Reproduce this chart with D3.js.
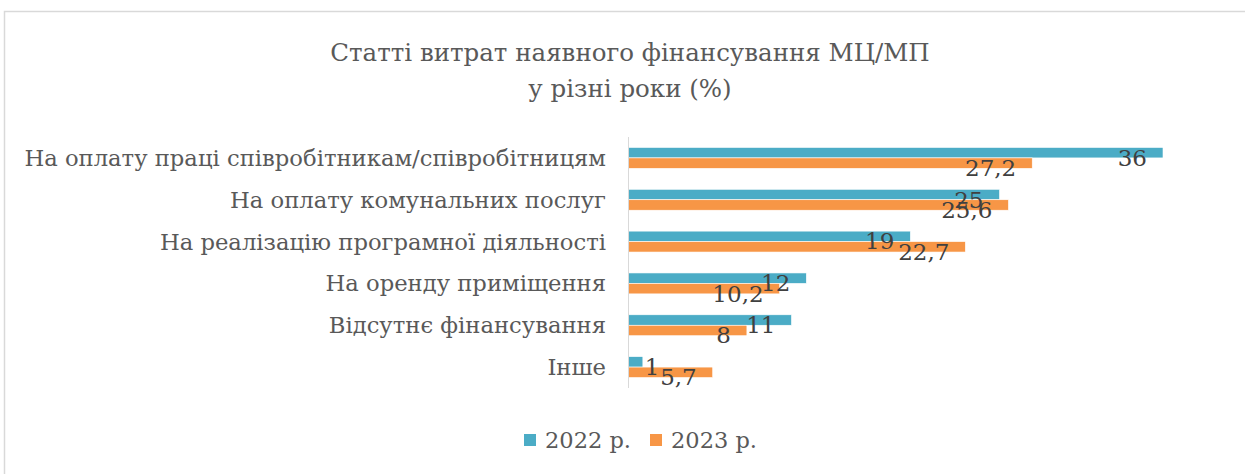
<!DOCTYPE html>
<html>
<head>
<meta charset="utf-8">
<script src="https://cdn.jsdelivr.net/npm/d3@7"></script>
<style>
	body { margin: 0; background: #fff; }
	svg text { font-family: "DejaVu Serif", "Liberation Serif", serif; }
</style>
</head>
<body>
<svg id="chart" width="1245" height="474"></svg>
<script>
var categories = [
	'На оплату праці співробітникам/співробітницям',
	'На оплату комунальних послуг',
	'На реалізацію програмної діяльності',
	'На оренду приміщення',
	'Відсутнє фінансування',
	'Інше'
];
var values2022 = [36, 25, 19, 12, 11, 1];
var values2023 = [27.2, 25.6, 22.7, 10.2, 8, 5.7];
var seriesNames = ['2022 р.', '2023 р.'];
var seriesColors = ['#4BACC6', '#F79646'];
var titleLines = ['Статті витрат наявного фінансування МЦ/МП', 'у різні роки (%)'];

var chart = {
	initialize: function(){
		var self = this;
		self._render_view();
	},
	_render_view: function(){
		var self = this;
		var svg = d3.select('#chart');
		var plot = {left: 628, right: 1163, top: 137, bottom: 388};

		// chart frame
		svg.append('rect')
			.attr('x', 4.5).attr('y', 11.5)
			.attr('width', 1270).attr('height', 490)
			.attr('fill', 'none')
			.attr('stroke', '#d9d9d9')
			.attr('stroke-width', 1.5);

		svg.selectAll('.title-line')
			.data(titleLines)
			.enter()
			.append('text')
			.attr('class', 'title-line')
			.attr('x', 630)
			.attr('y', function(d, i){ return 52 + i * 36; })
			.attr('text-anchor', 'middle')
			.attr('dominant-baseline', 'central')
			.attr('fill', '#595959')
			.style('font-size', '24.5px')
			.text(function(d){ return d; });

		var x = d3.scaleLinear().domain([0, 36]).range([plot.left, plot.right]);
		var y = d3.scaleBand().domain(categories)
			.range([plot.top, plot.bottom])
			.paddingInner(0.5).paddingOuter(0.25);
		var bh = y.bandwidth() / 2;

		var rows = categories.map(function(c, i){
			return {cat: c, vals: [values2022[i], values2023[i]]};
		});

		// category labels
		svg.selectAll('.cat-label')
			.data(categories)
			.enter()
			.append('text')
			.attr('class', 'cat-label')
			.attr('x', 606)
			.attr('y', function(d){ return y(d) + y.bandwidth() / 2; })
			.attr('text-anchor', 'end')
			.attr('dominant-baseline', 'central')
			.attr('fill', '#595959')
			.style('font-size', '22.7px')
			.text(function(d){ return d; });

		var bars = [];
		rows.forEach(function(r){
			r.vals.forEach(function(v, s){
				bars.push({cat: r.cat, v: v, s: s});
			});
		});

		svg.selectAll('.bar')
			.data(bars)
			.enter()
			.append('rect')
			.attr('class', 'bar')
			.attr('x', x(0))
			.attr('y', function(d){ return y(d.cat) + d.s * bh; })
			.attr('width', function(d){ return x(d.v) - x(0); })
			.attr('height', bh)
			.attr('fill', function(d){ return seriesColors[d.s]; })
			.attr('stroke', '#fff')
			.attr('stroke-width', 0.6);

		// vertical axis line
		svg.append('line')
			.attr('x1', plot.left + 0.5).attr('x2', plot.left + 0.5)
			.attr('y1', plot.top).attr('y2', plot.bottom)
			.attr('stroke', '#d9d9d9')
			.attr('stroke-width', 1);

		// value labels
		svg.selectAll('.val-label')
			.data(bars)
			.enter()
			.append('text')
			.attr('class', 'val-label')
			.attr('x', function(d){
				return d.v < 3 ? x(d.v) + 2 : x(d.v) - 16;
			})
			.attr('y', function(d){ return y(d.cat) + d.s * bh + bh / 2 + 5; })
			.attr('text-anchor', function(d){ return d.v < 3 ? 'start' : 'end'; })
			.attr('dominant-baseline', 'central')
			.attr('fill', '#404040')
			.style('font-size', '23px')
			.text(function(d){ return String(d.v).replace('.', ','); });

		// legend
		var legendX = [524, 650];
		var legend = svg.selectAll('.legend')
			.data(seriesNames)
			.enter()
			.append('g')
			.attr('class', 'legend')
			.attr('transform', function(d, i){ return 'translate(' + legendX[i] + ',440)'; });
		legend.append('rect')
			.attr('x', 0).attr('y', -6)
			.attr('width', 12).attr('height', 12)
			.attr('fill', function(d, i){ return seriesColors[i]; });
		legend.append('text')
			.attr('x', 21)
			.attr('y', 0)
			.attr('dominant-baseline', 'central')
			.attr('fill', '#595959')
			.style('font-size', '22.5px')
			.text(function(d){ return d; });
	}
};
chart.initialize();
</script>
</body>
</html>
